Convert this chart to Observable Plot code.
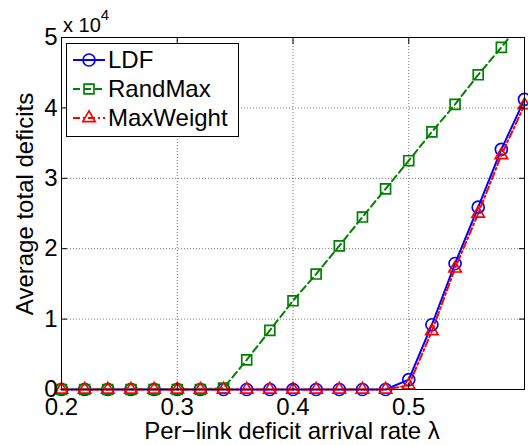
<!DOCTYPE html>
<html><head><meta charset="utf-8">
<script src="https://cdn.jsdelivr.net/npm/d3@7"></script>
<script src="https://cdn.jsdelivr.net/npm/@observablehq/plot@0.6"></script>
<style>body{margin:0;background:#fff}</style>
</head><body><div id="chart"></div>
<script>
// Per-link deficit arrival rate λ
const lambda = [0.20,0.22,0.24,0.26,0.28,0.30,0.32,0.34,0.36,0.38,0.40,0.42,0.44,0.46,0.48,0.50,0.52,0.54,0.56,0.58,0.60];
// Average total deficits
const ldf       = [0,0,0,0,0,0,0,0,0,0,0,0,0,0,0,1400,9200,17900,25900,34100,41200];
const randMax   = [0,0,0,0,0,0,0,200,4200,8400,12600,16400,20400,24500,28500,32500,36600,40500,44700,48600,52800];
const maxWeight = [0,0,0,0,0,0,0,0,0,0,0,0,0,0,0,600,8300,17200,25000,33300,40400];
const seriesNames = ["LDF","RandMax","MaxWeight"];
const xTicks = [0.2,0.3,0.4,0.5];
const xTicksAll = [0.2,0.3,0.4,0.5,0.6];
const yTicks = [0,10000,20000,30000,40000,50000];
const xLabel = "Per\u2212link deficit arrival rate \u03bb";
const yLabel = "Average total deficits";

const styles = {
  LDF:       {values: ldf,       color:"#0000ff", dash:null,      symbol:"circle",   r:6},
  RandMax:   {values: randMax,   color:"#008000", dash:"7,4",     symbol:"square",   r:5.6},
  MaxWeight: {values: maxWeight, color:"#ff0000", dash:"7,3,2,3", symbol:"triangle", r:4.6}
};
const W = 528, H = 445;
const font = "'Liberation Sans', Arial, Helvetica, sans-serif";
const FS = 24;

const marks = [
  Plot.gridX(xTicks, {stroke:"#000", strokeOpacity:0.55, strokeDasharray:"1,2"}),
  Plot.gridY(yTicks, {stroke:"#000", strokeOpacity:0.55, strokeDasharray:"1,2"})
];
for (const name of seriesNames) {
  const s = styles[name];
  const data = lambda.map((x,i) => ({x, y: s.values[i]}));
  marks.push(Plot.line(data, {x:"x", y:"y", stroke:s.color, strokeWidth:2,
    strokeDasharray: s.dash, clip: name === "RandMax"}));
  marks.push(Plot.dot(data.filter(d => d.y <= 50000), {x:"x", y:"y", symbol:s.symbol, r:s.r,
    stroke:s.color, fill:"none", strokeWidth:1.7}));
}
marks.push(
  Plot.frame({stroke:"#000", strokeWidth:1}),
  Plot.axisX(xTicks, {anchor:"bottom", tickSize:-6, tickPadding:14, fontSize:FS, tickFormat:d=>d.toFixed(1), label:null}),
  Plot.axisX(xTicksAll, {anchor:"top", tickSize:-6, tickFormat:()=>"", label:null}),
  Plot.axisY(yTicks, {anchor:"left", tickSize:-6, tickPadding:10, fontSize:FS, tickFormat:d=>String(d/10000), label:null}),
  Plot.axisY(yTicks, {anchor:"right", tickSize:-6, tickFormat:()=>"", label:null})
);

const chart = Plot.plot({
  width: W, height: H,
  marginLeft: 61, marginRight: 4, marginTop: 37, marginBottom: 56,
  x: {domain:[0.2,0.6], label:null},
  y: {domain:[0,50000], label:null},
  style: {fontFamily: font, fontSize: FS+"px", background:"#fff", color:"#000"},
  marks
});
document.getElementById("chart").appendChild(chart);

const svg = d3.select(chart);
// axis labels
svg.append("text").attr("x", 292).attr("y", 439).attr("text-anchor","middle")
  .attr("font-size", FS).attr("fill","#000").text(xLabel);
svg.append("text").attr("transform","translate(33,204) rotate(-90)").attr("text-anchor","middle")
  .attr("font-size", FS).attr("fill","#000").text(yLabel);
// exponent
const ex = svg.append("text").attr("x", 63).attr("y", 32).attr("text-anchor","start")
  .attr("font-size", 20).attr("fill","#000");
ex.append("tspan").text("x 10");
ex.append("tspan").attr("font-size", 15).attr("dy", -12).text("4");

// legend
const lg = svg.append("g");
lg.append("rect").attr("x",66.5).attr("y",43.5).attr("width",172).attr("height",93)
  .attr("fill","#fff").attr("stroke","#000").attr("stroke-width",1);
seriesNames.forEach((name, i) => {
  const s = styles[name];
  const cy = 60 + i*29;
  lg.append("line").attr("x1",73).attr("x2",105).attr("y1",cy).attr("y2",cy)
    .attr("stroke", s.color).attr("stroke-width",2).attr("stroke-dasharray", s.dash);
  const sym = {circle:d3.symbolCircle, square:d3.symbolSquare, triangle:d3.symbolTriangle}[s.symbol];
  lg.append("path").attr("transform",`translate(89,${cy})`)
    .attr("d", d3.symbol(sym, s.r*s.r*Math.PI)())
    .attr("fill","none").attr("stroke", s.color).attr("stroke-width",1.7);
  lg.append("text").attr("x",108).attr("y",cy+8).attr("text-anchor","start")
    .attr("font-size",FS).attr("fill","#000").text(name);
});
</script>
</body></html>
